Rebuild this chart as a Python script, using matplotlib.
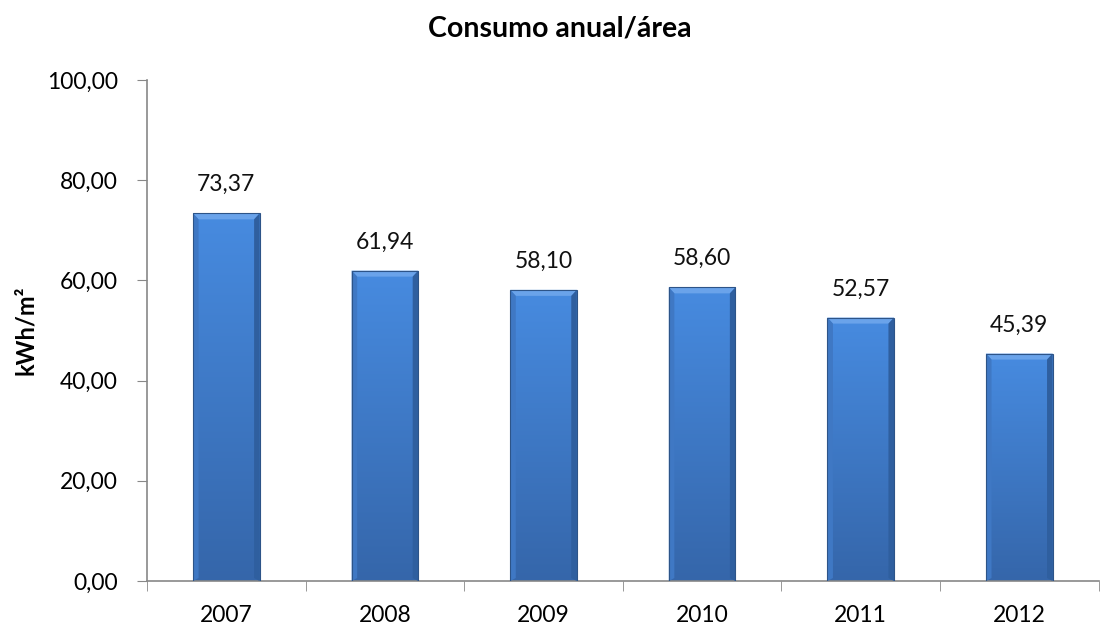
import numpy as np
import matplotlib.pyplot as plt
from matplotlib.patches import Rectangle, Polygon
from matplotlib.colors import LinearSegmentedColormap

plt.rcParams['font.family'] = ['Lato', 'DejaVu Sans']

years = ["2007", "2008", "2009", "2010", "2011", "2012"]
values = [73.37, 61.94, 58.10, 58.60, 52.57, 45.39]
labels = ["73,37", "61,94", "58,10", "58,60", "52,57", "45,39"]
yticks = [0, 20, 40, 60, 80, 100]
ytick_labels = ["0,00", "20,00", "40,00", "60,00", "80,00", "100,00"]

fig = plt.figure(figsize=(11.09, 6.28), dpi=100)
ax = fig.add_axes([0.1326, 0.0748, 0.858, 0.798])

x = np.arange(len(years))
width = 0.42
grad = LinearSegmentedColormap.from_list("bar", ["#3566aa", "#478be0"])
gimg = np.linspace(0, 1, 256).reshape(-1, 1)

for xi, v, lab in zip(x, values, labels):
    left = xi - width / 2
    rect = Rectangle((left, 0), width, v, facecolor="none", edgecolor="none")
    ax.add_patch(rect)
    im = ax.imshow(gimg, cmap=grad, aspect="auto", origin="lower",
                   extent=(left, left + width, 0, v), zorder=2)
    im.set_clip_path(rect)
    # bevel edges
    b = 0.035
    bh = 1.2
    ax.add_patch(Polygon([(left, v), (left + width, v), (left + width - b, v - bh), (left + b, v - bh)],
                         closed=True, facecolor="#6aa3ea", edgecolor="none", zorder=3))
    ax.add_patch(Polygon([(left, 0), (left, v), (left + b, v - bh), (left + b, bh * 0.5)],
                         closed=True, facecolor="#3f78c4", edgecolor="none", zorder=3))
    ax.add_patch(Polygon([(left + width, 0), (left + width, v), (left + width - b, v - bh), (left + width - b, bh * 0.5)],
                         closed=True, facecolor="#2f5f9f", edgecolor="none", zorder=3))
    ax.add_patch(Rectangle((left, 0), width, v, facecolor="none", edgecolor="#2d5488", linewidth=0.8, zorder=4))
    ax.text(xi, v + 3.6, lab, ha="center", va="bottom", fontsize=16.5, color="#111111")

ax.set_xlim(-0.5, len(years) - 0.5)
ax.set_ylim(0, 100)
ax.set_yticks(yticks)
ax.set_yticklabels(ytick_labels, fontsize=16.5)
ax.set_xticks(x)
ax.set_xticklabels(years, fontsize=16.5)
ax.set_xticks(np.arange(-0.5, len(years)), minor=True)
ax.tick_params(axis="x", which="major", length=0, pad=17)
ax.tick_params(axis="x", which="minor", length=7, color="#888888", direction="out")
ax.tick_params(axis="y", length=7, color="#888888", pad=14)

for s in ["top", "right"]:
    ax.spines[s].set_visible(False)
ax.spines["left"].set_color("#888888")
ax.spines["bottom"].set_color("#888888")
ax.spines["left"].set_linewidth(1.2)
ax.spines["bottom"].set_linewidth(1.2)

ax.set_ylabel("kWh/m²", fontsize=17, fontweight="bold")
ax.yaxis.set_label_coords(-0.116, 0.5)
fig.text(0.505, 0.955, "Consumo anual/área", ha="center", va="center", fontsize=20.5, fontweight="bold")

fig.savefig("out.png", dpi=100)
